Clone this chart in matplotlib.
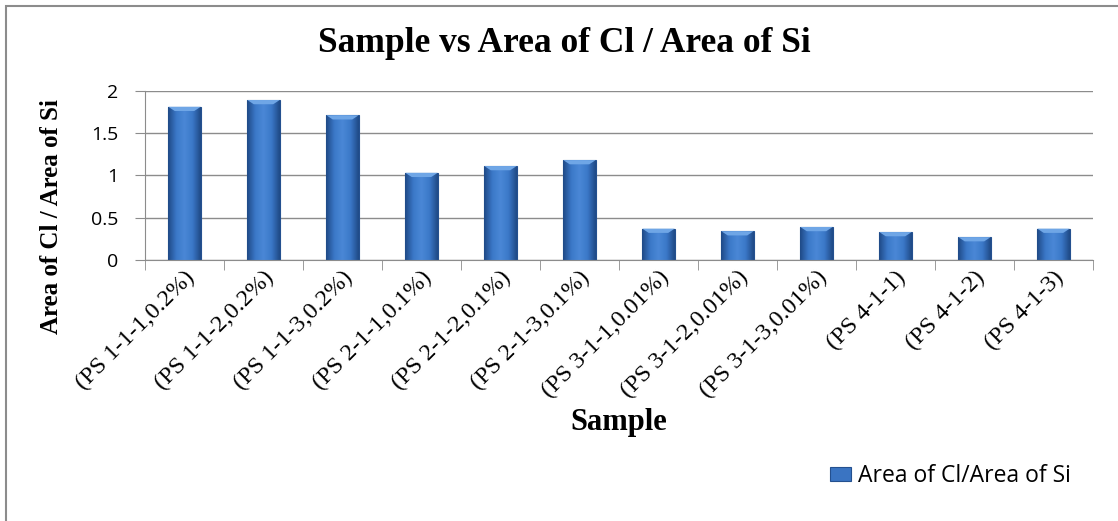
import numpy as np
import matplotlib
matplotlib.use("Agg")
import matplotlib.pyplot as plt
from matplotlib.patches import Rectangle, Polygon
from matplotlib.colors import LinearSegmentedColormap

samples = ["(PS 1-1-1,0.2%)", "(PS 1-1-2,0.2%)", "(PS 1-1-3,0.2%)",
           "(PS 2-1-1,0.1%)", "(PS 2-1-2,0.1%)", "(PS 2-1-3,0.1%)",
           "(PS 3-1-1,0.01%)", "(PS 3-1-2,0.01%)", "(PS 3-1-3,0.01%)",
           "(PS 4-1-1)", "(PS 4-1-2)", "(PS 4-1-3)"]
ratio = [1.81, 1.89, 1.71, 1.03, 1.11, 1.18, 0.37, 0.34, 0.39, 0.33, 0.27, 0.37]
yticks = [0, 0.5, 1, 1.5, 2]
ytick_labels = ["0", "0.5", "1", "1.5", "2"]

serif = "Liberation Serif"
sans = "Open Sans"
grey = "#8C8C8C"

fig = plt.figure(figsize=(11.18, 5.21), dpi=100)
ax = fig.add_axes([0.1297, 0.501, 0.8479, 0.3249])

x = np.arange(len(samples))
width = 0.41
bars = ax.bar(x, ratio, width=width, color="#3A74C2", edgecolor="#24508F",
              linewidth=0.8, zorder=2, label="Area of Cl/Area of Si")

# shaded fill across each bar, darker at the edges
shade = LinearSegmentedColormap.from_list(
    "shade", ["#1F4A86", "#3B78C8", "#4A88D6", "#3B78C8", "#1F4A86"])
grad = np.linspace(0, 1, 64).reshape(1, -1)
for b in bars:
    x0, w, h = b.get_x(), b.get_width(), b.get_height()
    im = ax.imshow(grad, cmap=shade, extent=[x0, x0 + w, 0, h],
                   aspect="auto", zorder=2.1, interpolation="bicubic")
    im.set_clip_path(b)
    # light bevel on the top of each bar
    bevel = 0.05
    ax.add_patch(Polygon([[x0, h], [x0 + w, h], [x0 + w * 0.8, h - bevel],
                          [x0 + w * 0.2, h - bevel]],
                         closed=True, facecolor="#6FA6E6", edgecolor="none",
                         zorder=2.2))
ax.set_xlim(-0.5, len(samples) - 0.5)
ax.set_ylim(0, 2)
ax.set_yticks(yticks)
ax.set_yticklabels(ytick_labels, fontfamily=sans, fontsize=14)
ax.yaxis.grid(True, color=grey, linewidth=1.0, zorder=0)
ax.set_axisbelow(True)

ax.set_xticks(x)
ax.set_xticklabels(samples, rotation=45, ha="right", va="top",
                   rotation_mode="anchor", fontfamily=serif, fontsize=17.5)
ax.set_xticks(np.arange(-0.5, len(samples), 1), minor=True)
ax.tick_params(axis="x", which="major", length=0, pad=5)
ax.tick_params(axis="x", which="minor", length=7, color=grey)
ax.tick_params(axis="y", length=7.2, color=grey, pad=12)

for side in ["top", "right"]:
    ax.spines[side].set_visible(False)
ax.spines["left"].set_color(grey)
ax.spines["bottom"].set_color(grey)

ax.set_ylabel("Area of Cl / Area of Si", fontfamily=serif, fontweight="bold",
              fontsize=18)
ax.yaxis.set_label_coords(-0.0865, 0.259)
fig.text(0.5537, 1 - 430 / 521, "Sample", ha="center", va="baseline",
         fontfamily=serif, fontweight="bold", fontsize=22)
fig.text(564 / 1118, 1 - 52 / 521, "Sample vs Area of Cl / Area of Si",
         ha="center", va="baseline", fontfamily=serif, fontweight="bold",
         fontsize=25.5)

leg = ax.legend(loc="lower left", bbox_to_anchor=(830 / 1118, 1 - 488 / 521),
                bbox_transform=fig.transFigure, frameon=False,
                borderpad=0, borderaxespad=0,
                prop={"family": sans, "size": 16.5}, handlelength=0.9,
                handleheight=0.55, handletextpad=0.3)

# outer chart border
fig.patches.append(Rectangle((5.5 / 1118, -0.01), 1.0, 1.01 - 6 / 521,
                             transform=fig.transFigure, fill=False,
                             edgecolor=grey, linewidth=1.5))

fig.savefig("out.png", dpi=100)
